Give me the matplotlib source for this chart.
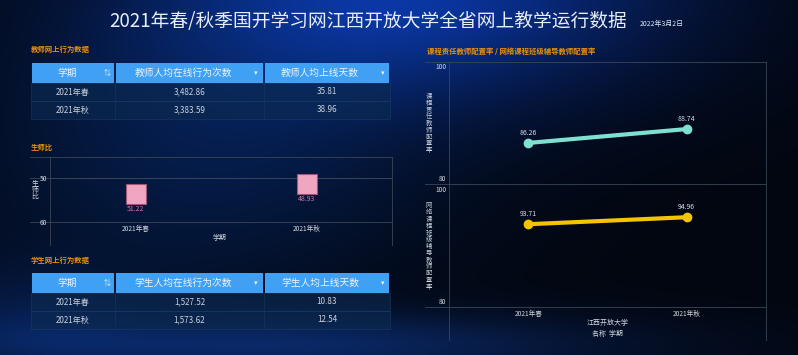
import numpy as np
import matplotlib
matplotlib.use('Agg')
import matplotlib.pyplot as plt
from matplotlib.patches import Rectangle
from matplotlib.transforms import ScaledTranslation

# 中文字体，缺字时回落到 DejaVu
plt.rcParams['font.family'] = ['Noto Sans CJK SC', 'DejaVu Sans']
plt.rcParams['axes.unicode_minus'] = False

# 数据
terms = ['2021年春', '2021年秋']
teacher_actions = [3482.86, 3383.59]
teacher_days = [35.81, 38.96]
student_actions = [1527.52, 1573.62]
student_days = [10.83, 12.54]
ratio = [51.22, 48.93]
course_rate = [86.26, 88.74]
class_rate = [93.71, 94.96]

W, H = 798, 355
fig = plt.figure(figsize=(W / 100, H / 100), dpi=100)


def box(l, t, r, b):
    # 像素坐标 -> figure 坐标
    return [l / W, 1 - b / H, (r - l) / W, (b - t) / H]


# 背景：深蓝渐变 + 光晕
yy, xx = np.mgrid[0:H, 0:W]


def blob(cx, cy, sx, sy):
    return np.exp(-((xx - cx) / sx) ** 2 - ((yy - cy) / sy) ** 2)[..., None]


bg = np.zeros((H, W, 3)) + np.array([0.008, 0.025, 0.065])
bg += blob(400, -10, 260, 110) * np.array([0.03, 0.18, 0.55])
bg += blob(200, 150, 230, 150) * np.array([0.01, 0.08, 0.20])
bg += blob(280, 345, 330, 32) * np.array([0.03, 0.12, 0.30])
bg += blob(20, 320, 120, 60) * np.array([0.01, 0.06, 0.16])
bg = np.clip(bg, 0, 1)

bx = fig.add_axes([0, 0, 1, 1])
bx.imshow(bg, aspect='auto', extent=(0, W, H, 0))
bx.set_xlim(0, W)
bx.set_ylim(H, 0)
bx.axis('off')

# 标题
bx.text(368, 22, '2021年春/秋季国开学习网江西开放大学全省网上教学运行数据',
        ha='center', va='center', fontsize=13.5, color='#e8eef8')
bx.text(640, 24, '2022年3月2日', ha='left', va='center', fontsize=5, color='#dfe6f0')

orange = '#e8900c'
bx.text(31, 49, '教师网上行为数据', fontsize=5.3, color=orange, va='center', fontweight='bold')
bx.text(31, 147, '生师比', fontsize=5.3, color=orange, va='center', fontweight='bold')
bx.text(31, 260, '学生网上行为数据', fontsize=5.3, color=orange, va='center', fontweight='bold')
bx.text(427, 51, '课程责任教师配置率 / 网络课程班级辅导教师配置率', fontsize=5.3,
        color=orange, va='center', fontweight='bold')


# 表格
def draw_table(top, headers, col_a, col_b):
    cols = [31, 115, 264, 390]
    hh, rh = 20, 18
    for i in range(3):
        bx.add_patch(Rectangle((cols[i] + 0.7, top), cols[i + 1] - cols[i] - 1.4, hh,
                               fc='#40a0f4', ec='none'))
    head_x = [67, 183, 320]
    icon_x = [107, 256, 383]
    icons = ['⇅', '▾', '▾']
    for i in range(3):
        bx.text(head_x[i], top + hh / 2, headers[i], ha='center', va='center',
                fontsize=7, color='#eef4ff')
        bx.text(icon_x[i], top + hh / 2, icons[i], ha='center', va='center',
                fontsize=5, color='#eef4ff')
    for r in range(len(terms)):
        y0 = top + hh + r * rh
        bx.add_patch(Rectangle((cols[0], y0), cols[3] - cols[0], rh,
                               fc='#0c2a50', ec='#1c3e6a', lw=0.6, alpha=0.6))
        for c in cols[1:3]:
            bx.plot([c, c], [y0, y0 + rh], color='#15345c', lw=0.5)
        vals = [terms[r], f'{col_a[r]:,.2f}', f'{col_b[r]:,.2f}']
        for i in range(3):
            bx.text((cols[i] + cols[i + 1]) / 2, y0 + rh / 2, vals[i], ha='center',
                    va='center', fontsize=5.8, color='#c9d2de')


draw_table(63, ['学期', '教师人均在线行为次数', '教师人均上线天数'], teacher_actions, teacher_days)
draw_table(273, ['学期', '学生人均在线行为次数', '学生人均上线天数'], student_actions, student_days)

line_c = '#3a4656'

# 生师比
ax1 = fig.add_axes(box(50, 157, 392, 222))
ax1.set_facecolor('none')
x = np.arange(len(terms))
off = ScaledTranslation(0, -0.105, fig.dpi_scale_trans)
ax1.plot(x, ratio, 's', ms=15, mfc='#f0a6c0', mec='#9c5676', mew=0.8,
         transform=ax1.transData + off)
for i, v in enumerate(ratio):
    ax1.annotate(f'{v:.2f}', (i, v), xytext=(0, -26), textcoords='offset pixels',
                 ha='center', va='center', fontsize=5, color='#c77d9c')
ax1.set_xlim(-0.5, 1.5)
ax1.set_ylim(60, 45.23)
ax1.set_yticks([50, 60])
ax1.set_xticks(x)
ax1.set_xticklabels(terms)
ax1.tick_params(length=0, labelsize=4.8, colors='#d0d6de', pad=2)
ax1.grid(axis='y', color=line_c, lw=0.6)
for s in ax1.spines.values():
    s.set_visible(False)
bx.text(220, 238, '学期', ha='center', va='center', fontsize=5, color='#d0d6de')
bx.text(35, 190, '生\n师\n比', ha='center', va='center', fontsize=5, color='#d0d6de',
        linespacing=0.8)
for yv in [157, 178, 222]:
    bx.plot([30, 392], [yv, yv], color=line_c, lw=0.6)
for xv in [50, 392]:
    bx.plot([xv, xv], [157, 245], color=line_c, lw=0.6)

# 配置率
ax2 = fig.add_axes(box(449, 62, 766, 184))
ax3 = fig.add_axes(box(449, 184, 766, 307))
specs = [(ax2, course_rate, '#7fe0cf', (78.93, 100.71), '课程责任教师配置率', 123),
         (ax3, class_rate, '#f5c400', (78.93, 100.89), '网络课程班级辅导教师配置率', 246)]
for ax, vals, col, lim, lab, ly in specs:
    ax.set_facecolor('none')
    ax.plot(x, vals, color=col, lw=3, marker='o', ms=6, solid_capstyle='round')
    for i, v in enumerate(vals):
        ax.annotate(f'{v:.2f}', (i, v), xytext=(0, 10), textcoords='offset pixels',
                    ha='center', va='center', fontsize=5, color='#d8dee6')
    ax.set_xlim(-0.5, 1.5)
    ax.set_ylim(*lim)
    ax.set_yticks([80, 100])
    ax.tick_params(length=0, labelsize=4.8, colors='#d0d6de', pad=2)
    for s in ax.spines.values():
        s.set_visible(False)
    bx.text(429, ly, '\n'.join(lab), ha='center', va='center', fontsize=4.6,
            color='#c8d0da', linespacing=0.8)
ax2.set_xticks([])
ax3.set_xticks(x)
ax3.set_xticklabels(terms)
bx.text(608, 323, '江西开放大学', ha='center', va='center', fontsize=5, color='#d0d6de')
bx.text(608, 334, '名称  学期', ha='center', va='center', fontsize=5, color='#d0d6de')
for yv in [62, 184, 307]:
    bx.plot([425, 766], [yv, yv], color=line_c, lw=0.6)
for xv in [449, 766]:
    bx.plot([xv, xv], [62, 340], color=line_c, lw=0.6)

fig.savefig('out.png', dpi=100)
